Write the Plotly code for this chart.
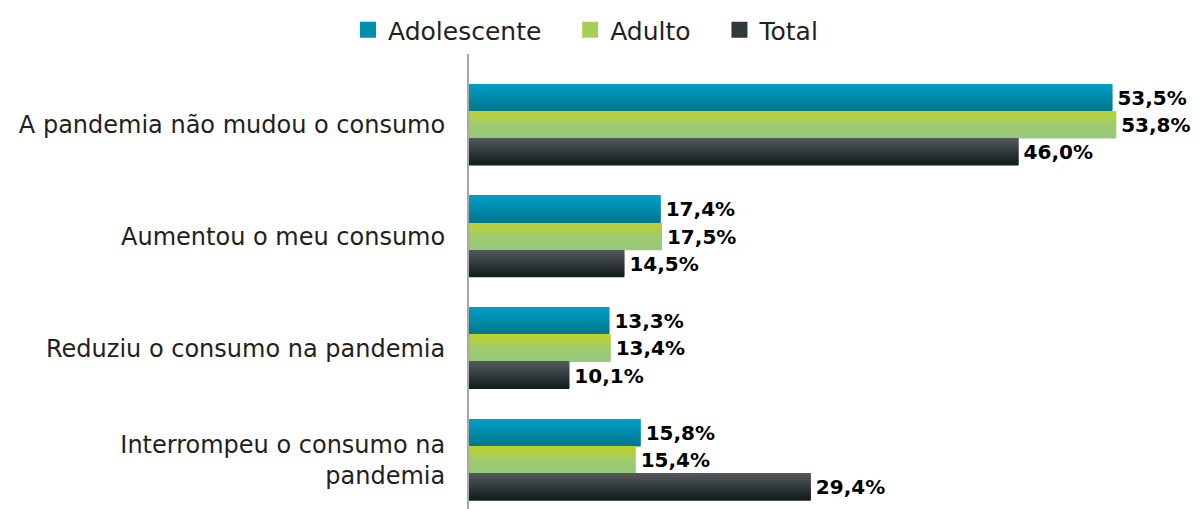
import plotly.graph_objects as go

categories = [
    "A pandemia não mudou o consumo",
    "Aumentou o meu consumo",
    "Reduziu o consumo na pandemia",
    "Interrompeu o consumo na<br>pandemia",
]
series_names = ["Adolescente", "Adulto", "Total"]
adolescente = [53.5, 17.4, 13.3, 15.8]
adulto = [53.8, 17.5, 13.4, 15.4]
total = [46.0, 14.5, 10.1, 29.4]
values = [adolescente, adulto, total]

# vertical gradient stops (top -> bottom) per series
gradients = [
    [(0.0, (0, 160, 203)), (1.0, (0, 120, 143))],
    [(0.0, (192, 211, 30)), (0.55, (158, 203, 112)), (1.0, (152, 201, 122))],
    [(0.0, (88, 91, 96)), (1.0, (17, 29, 30))],
]
legend_colors = ["#008DAE", "#A8CD5C", "#30383B"]

def interp(stops, f):
    for (f0, c0), (f1, c1) in zip(stops[:-1], stops[1:]):
        if f0 <= f <= f1:
            t = 0 if f1 == f0 else (f - f0) / (f1 - f0)
            return "rgb(%d,%d,%d)" % tuple(round(a + (b - a) * t) for a, b in zip(c0, c1))
    return "rgb(%d,%d,%d)" % stops[-1][1]

# the page adds an 8px body margin, so the figure is drawn 8px smaller
W, H = 1193, 501

fig = go.Figure()
ypos = list(range(len(categories)))
thick = 0.243
N = 14
ov = 0.012
for s, (name, vals) in enumerate(zip(series_names, values)):
    base_off = (s - 1.5) * thick
    for i in range(N):
        f = (i + 0.5) / N
        extra = 0 if i == 0 else ov
        fig.add_trace(go.Bar(
            x=vals, y=ypos, orientation="h",
            width=thick / N + extra, offset=base_off + i * thick / N - extra,
            marker=dict(color=interp(gradients[s], f), line=dict(width=0)),
            showlegend=False, hoverinfo="skip",
        ))
    fig.add_trace(go.Bar(
        x=vals, y=ypos, orientation="h",
        width=thick, offset=base_off,
        marker=dict(color="rgba(0,0,0,0)", line=dict(width=0)),
        text=["\u200a" + f"{v:.1f}".replace(".", ",") + "%" for v in vals],
        textposition="outside", constraintext="none", cliponaxis=False,
        textfont=dict(family="DejaVu Sans", size=20, color="#000000", weight="bold"),
        showlegend=False, hoverinfo="skip",
    ))
    fig.add_trace(go.Scatter(
        x=[None], y=[None], mode="markers", name=name + "\u00a0\u00a0\u00a0",
        marker=dict(symbol="square", size=24, color=legend_colors[s]),
    ))

fig.update_layout(
    width=W, height=H,
    margin=dict(l=461, r=11, t=46, b=0),
    barmode="overlay",
    plot_bgcolor="white", paper_bgcolor="white",
    font=dict(family="DejaVu Sans", color="#231F20"),
    legend=dict(
        orientation="h", xref="container", yref="container",
        x=590 / W, xanchor="center", y=1 - 22 / H, yanchor="middle",
        font=dict(size=25, color="#231F20"), itemsizing="trace",
    ),
    xaxis=dict(range=[2.08, 59.7], visible=False, fixedrange=True),
    yaxis=dict(
        range=[3.4375, -0.634], tickmode="array", tickvals=ypos, ticktext=categories,
        showgrid=False, zeroline=False, showline=True, linecolor="#A8A8A8", linewidth=2,
        ticks="", tickfont=dict(size=24, color="#231F20"), ticklabelstandoff=17,
    ),
)
fig.write_html("out.html")
